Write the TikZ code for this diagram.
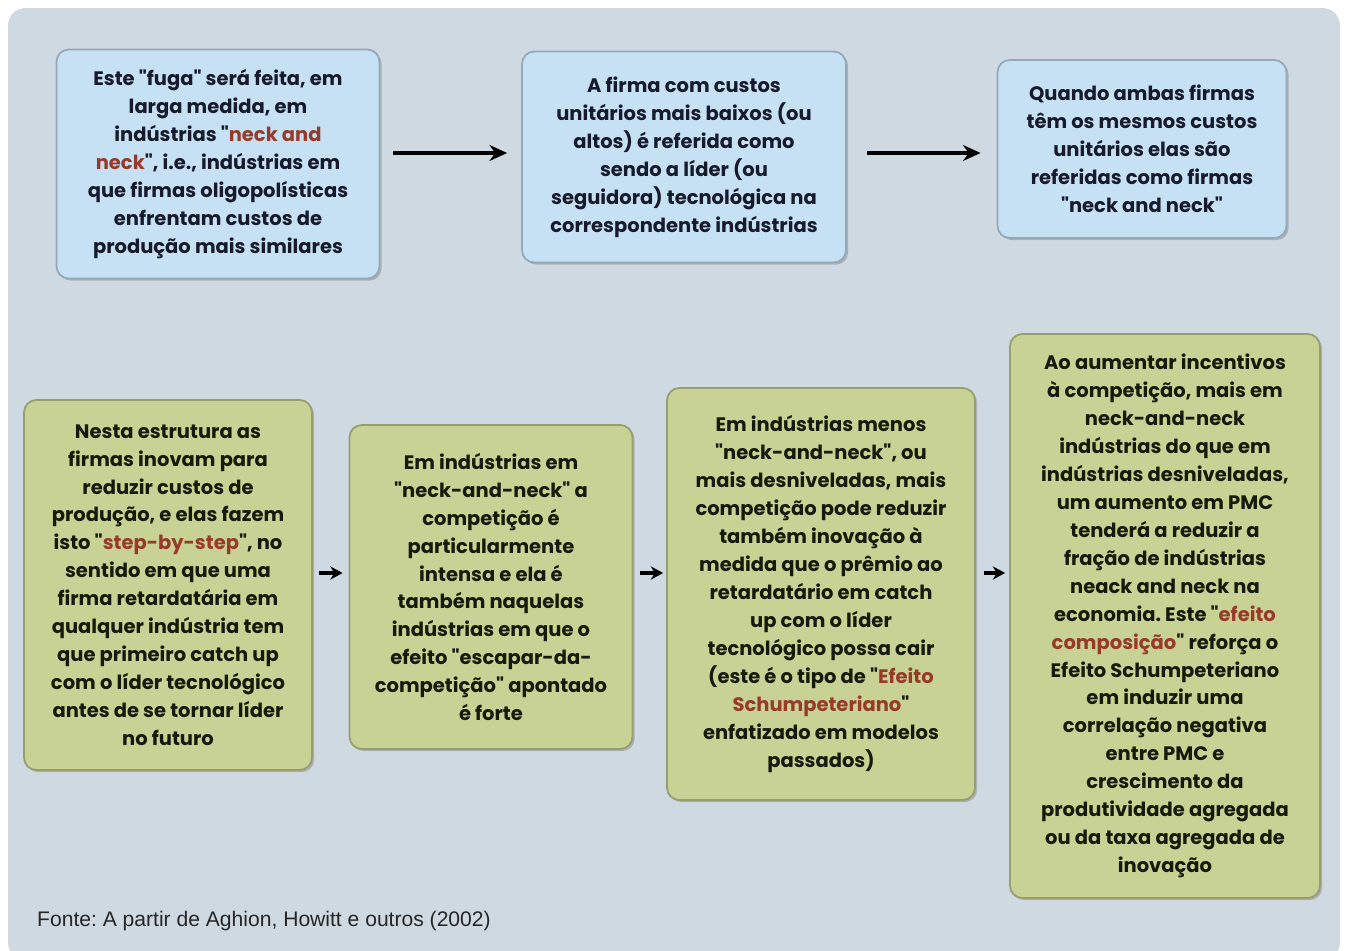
\documentclass[tikz,border=0pt]{standalone}
\usepackage{fontspec}
\setmainfont{Liberation Sans}
\newfontfamily\boxfont{Poppins}
\usetikzlibrary{positioning,shadows,arrows.meta}

\begin{document}
\frenchspacing
\begin{tikzpicture}[x=0.02cm, y=-0.02cm,
  box/.style={draw=#1!75!black, line width=1pt, rounded corners=7pt,
    align=center, inner sep=2pt, font=\boxfont\bfseries\fontsize{11.1}{15.9}\selectfont,
    drop shadow={shadow xshift=1.2pt, shadow yshift=-1.2pt, fill=black!50, opacity=.45}},
  bluebox/.style={box=bluecol, fill=bluecol, text=bluetext},
  greenbox/.style={box=greencol, fill=greencol, text=greentext},
  arr/.style={-{Stealth[length=10pt,width=9pt]}, line width=2pt, black},
  smallarr/.style={-{Stealth[length=7pt,width=7.5pt]}, line width=2pt, black}]

\definecolor{panelcol}{RGB}{207,217,226}
\definecolor{bluecol}{RGB}{198,224,244}
\definecolor{greencol}{RGB}{200,210,148}
\definecolor{bluetext}{RGB}{22,26,42}
\definecolor{greentext}{RGB}{22,26,10}
\definecolor{hl}{RGB}{152,58,42}

\useasboundingbox (0,0) rectangle (1347,951);
\fill[white] (0,0) rectangle (1347,951);
\fill[panelcol, rounded corners=10pt] (8,8) rectangle (1340,960);

% ---------------- top row ----------------
\node[bluebox, minimum width=323*0.02cm, minimum height=229*0.02cm] (b1) at (218,164)
  {Este "fuga" será feita, em\\ larga medida, em\\ indústrias "\textcolor{hl}{neck and}\\
   \textcolor{hl}{neck}", i.e., indústrias em\\ que firmas oligopolísticas\\
   enfrentam custos de\\ produção mais similares};
\node[bluebox, minimum width=324*0.02cm, minimum height=211*0.02cm] (b2) at (684,157)
  {A firma com custos\\ unitários mais baixos (ou\\ altos) é referida como\\
   sendo a líder (ou\\ seguidora) tecnológica na\\ correspondente indústrias};
\node[bluebox, minimum width=289*0.02cm, minimum height=178*0.02cm] (b3) at (1142,149)
  {Quando ambas firmas\\ têm os mesmos custos\\ unitários elas são\\
   referidas como firmas\\ "neck and neck"};

\coordinate (toprow) at (0,153);
\draw[arr, shorten <=13*0.02cm, shorten >=14*0.02cm] (b1.east |- toprow) -- (b2.west |- toprow);
\draw[arr, shorten <=20*0.02cm, shorten >=16*0.02cm] (b2.east |- toprow) -- (b3.west |- toprow);

% ---------------- bottom row ----------------
\node[greenbox, minimum width=288*0.02cm, minimum height=370*0.02cm] (g1) at (168,585)
  {Nesta estrutura as\\ firmas inovam para\\ reduzir custos de\\
   produção, e elas fazem\\ isto "\textcolor{hl}{step-by-step}", no\\
   sentido em que uma\\ firma retardatária em\\ qualquer indústria tem\\
   que primeiro catch up\\ com o líder tecnológico\\ antes de se tornar líder\\ no futuro};
\node[greenbox, minimum width=283*0.02cm, minimum height=324*0.02cm] (g2) at (491,587)
  {Em indústrias em\\ "neck-and-neck" a\\ competição é\\ particularmente\\
   intensa e ela é\\ também naquelas\\ indústrias em que o\\
   efeito "escapar-da-\\ competição" apontado\\ é forte};
\node[greenbox, minimum width=308*0.02cm, minimum height=412*0.02cm] (g3) at (821,594)
  {Em indústrias menos\\ "neck-and-neck", ou\\ mais desniveladas, mais\\
   competição pode reduzir\\ também inovação à\\ medida que o prêmio ao\\
   retardatário em catch\\ up com o líder\\ tecnológico possa cair\\
   (este é o tipo de "\textcolor{hl}{Efeito}\\ \textcolor{hl}{Schumpeteriano}"\\
   enfatizado em modelos\\ passados)};
\node[greenbox, minimum width=310*0.02cm, minimum height=564*0.02cm] (g4) at (1165,616)
  {Ao aumentar incentivos\\ à competição, mais em\\ neck-and-neck\\
   indústrias do que em\\ indústrias desniveladas,\\ um aumento em PMC\\
   tenderá a reduzir a\\ fração de indústrias\\ neack and neck na\\
   economia. Este "\textcolor{hl}{efeito}\\ \textcolor{hl}{composição}" reforça o\\
   Efeito Schumpeteriano\\ em induzir uma\\ correlação negativa\\ entre PMC e\\
   crescimento da\\ produtividade agregada\\ ou da taxa agregada de\\ inovação};

\coordinate (botrow) at (0,573);
\draw[smallarr, shorten <=6*0.02cm, shorten >=6*0.02cm] (g1.east |- botrow) -- (g2.west |- botrow);
\draw[smallarr, shorten <=7*0.02cm, shorten >=3*0.02cm] (g2.east |- botrow) -- (g3.west |- botrow);
\draw[smallarr, shorten <=8*0.02cm, shorten >=4*0.02cm] (g3.east |- botrow) -- (g4.west |- botrow);

% ---------------- source ----------------
\node[anchor=west, font=\fontsize{12}{14}\selectfont, text=black!85] (src) at (31,921)
  {Fonte: A partir de Aghion, Howitt e outros (2002)};

\end{tikzpicture}
\end{document}
